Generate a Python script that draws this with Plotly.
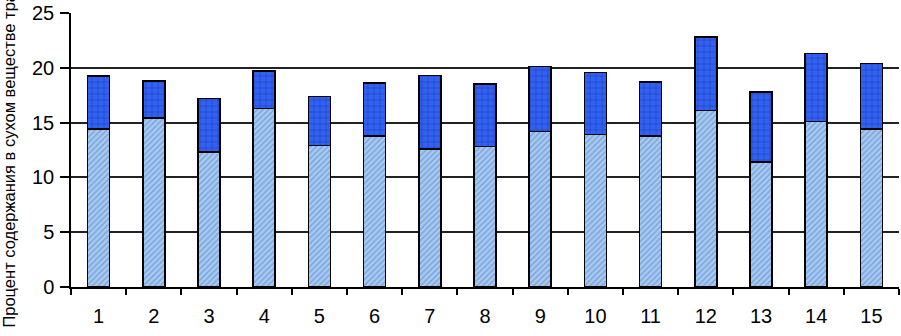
import plotly.graph_objects as go

categories = [str(i) for i in range(1, 16)]
bottom_vals = [14.4, 15.4, 12.3, 16.3, 12.9, 13.8, 12.6, 12.8, 14.2, 13.9, 13.8, 16.1, 11.4, 15.1, 14.4]
total_vals = [19.25, 18.8, 17.2, 19.7, 17.4, 18.6, 19.3, 18.5, 20.1, 19.55, 18.7, 22.8, 17.8, 21.3, 20.4]
top_vals = [round(t - b, 2) for t, b in zip(total_vals, bottom_vals)]
y_ticks = [0, 5, 10, 15, 20, 25]
y_title = "Процент содержания в сухом веществе травы"

fig = go.Figure()
fig.add_trace(go.Bar(
    x=categories, y=bottom_vals,
    marker=dict(color="#a8c8f0", line=dict(color="black", width=1.5),
                pattern=dict(shape="/", fgcolor="#4a78b8", bgcolor="#a6caf2", size=4, solidity=0.35)),
    showlegend=False,
))
fig.add_trace(go.Bar(
    x=categories, y=top_vals,
    marker=dict(color="#2f5ef0", line=dict(color="black", width=1.5),
                pattern=dict(shape="+", fgcolor="#0a1850", bgcolor="#3060f4", size=6, solidity=0.16)),
    showlegend=False,
))

fig.update_layout(
    barmode="stack",
    bargap=0.6,
    width=901, height=336,
    margin=dict(l=71, r=2, t=13, b=49, autoexpand=False),
    paper_bgcolor="white", plot_bgcolor="white",
    font=dict(family="Liberation Sans, Arial, sans-serif", color="black", size=20),
)
fig.update_xaxes(
    type="category", tickson="boundaries", automargin=False,
    ticks="outside", ticklen=6, tickwidth=1.5, tickcolor="black",
    showline=True, linecolor="black", linewidth=1.5,
    showgrid=False, tickfont=dict(size=20), ticklabelstandoff=10,
)
fig.update_yaxes(
    range=[0, 25], tickvals=y_ticks, automargin=False,
    ticks="outside", ticklen=9, tickwidth=1.5, tickcolor="black",
    showline=True, linecolor="black", linewidth=1.5,
    showgrid=True, gridcolor="#222", gridwidth=1.5,
    tickfont=dict(size=20), ticklabelstandoff=2,
    title=dict(text=y_title, font=dict(size=16.5), standoff=35),
)
fig.write_html("out.html", config={"displayModeBar": False},
               post_script="document.body.style.margin='0';")
